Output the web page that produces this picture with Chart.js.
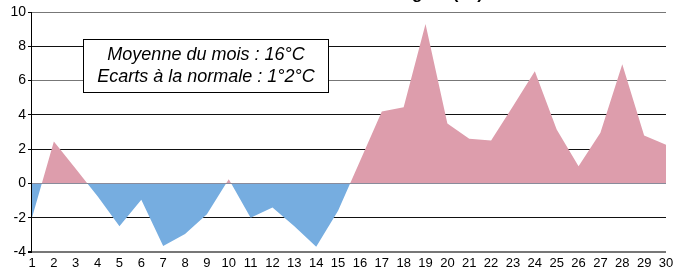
<!DOCTYPE html>
<html>
<head>
<meta charset="utf-8">
<script src="https://cdn.jsdelivr.net/npm/chart.js@4/dist/chart.umd.min.js"></script>
<style>
  html, body { margin: 0; padding: 0; background: #fff; }
  #wrap { width: 690px; height: 273px; position: relative; }
</style>
</head>
<body>
<div id="wrap"><canvas id="ecartChart"></canvas></div>
<script>
const days = ["1", "2", "3", "4", "5", "6", "7", "8", "9", "10",
  "11", "12", "13", "14", "15", "16", "17", "18", "19", "20",
  "21", "22", "23", "24", "25", "26", "27", "28", "29", "30"];

const ecarts = [-2.0, 2.45, 0.85, -0.75, -2.5, -0.95, -3.65, -2.95, -1.8, 0.25,
  -2.0, -1.4, -2.5, -3.7, -1.6, 1.3, 4.2, 4.45, 9.3, 3.5,
  2.6, 2.5, 4.5, 6.55, 3.15, 1.0, 2.95, 6.95, 2.8, 2.25];

const yTicks = [-4, -2, 0, 2, 4, 6, 8, 10];

const titleText = "Ecarts à la normale en degrés (°C)";
const boxLines = ["Moyenne du mois : 16°C", "Ecarts à la normale : 1°2°C"];

const FONT = "'Liberation Sans', Arial, Helvetica, sans-serif";

const overlayPlugin = {
  id: "overlay",
  afterDraw(chart) {
    const ctx = chart.ctx;
    const area = chart.chartArea;
    ctx.save();

    // title, mostly cut off at the top edge
    ctx.fillStyle = "#000";
    ctx.font = "bold 17px " + FONT;
    ctx.textAlign = "center";
    ctx.textBaseline = "alphabetic";
    ctx.fillText(titleText, 345, -1.5);

    // info box
    ctx.fillStyle = "#fff";
    ctx.fillRect(83.5, 39.5, 245, 53);
    ctx.strokeStyle = "#000";
    ctx.lineWidth = 1;
    ctx.strokeRect(83.5, 39.5, 245, 53);
    ctx.fillStyle = "#000";
    ctx.font = "italic 18px " + FONT;
    ctx.textBaseline = "middle";
    ctx.fillText(boxLines[0], 206, 55);
    ctx.fillText(boxLines[1], 206, 77);

    // left axis line
    ctx.beginPath();
    ctx.moveTo(area.left - 0.5, area.top);
    ctx.lineTo(area.left - 0.5, area.bottom);
    ctx.strokeStyle = "#000";
    ctx.stroke();
    ctx.restore();
  }
};

const ctx = document.getElementById("ecartChart").getContext("2d");

new Chart(ctx, {
  type: "line",
  data: {
    labels: days,
    datasets: [
      {
        data: ecarts,
        borderWidth: 0,
        borderColor: "rgba(0,0,0,0)",
        pointRadius: 0,
        tension: 0,
        fill: {
          target: "origin",
          above: "#dd9dac",
          below: "#76ade0"
        }
      }
    ]
  },
  options: {
    responsive: true,
    maintainAspectRatio: false,
    animation: false,
    layout: {
      padding: { top: 12, right: 24, left: 0, bottom: 0 }
    },
    plugins: {
      legend: { display: false },
      tooltip: { enabled: false }
    },
    scales: {
      x: {
        type: "category",
        offset: false,
        grid: { display: false, drawTicks: false },
        border: { display: false },
        ticks: {
          color: "#000",
          font: { family: FONT, size: 13 },
          padding: 4,
          maxRotation: 0,
          autoSkip: false
        },
        afterFit(scale) {
          scale.height = 21;
        }
      },
      y: {
        min: -4,
        max: 10,
        afterBuildTicks(scale) {
          scale.ticks = yTicks.map(v => ({ value: v }));
        },
        grid: {
          color(c) {
            const v = c.tick ? c.tick.value : 0;
            if (v === -4 || v === 0 || v === 10 || v === 6) return "#777";
            return "#111";
          },
          lineWidth(c) {
            const v = c.tick ? c.tick.value : 0;
            return v === -4 ? 2 : 1;
          },
          tickColor: "#000",
          tickLength: 4,
          drawTicks: true
        },
        border: { display: false },
        ticks: {
          color: "#000",
          font: { family: FONT, size: 14 },
          padding: 2
        },
        afterFit(scale) {
          scale.width = 32;
        }
      }
    }
  },
  plugins: [overlayPlugin]
});
</script>
</body>
</html>
